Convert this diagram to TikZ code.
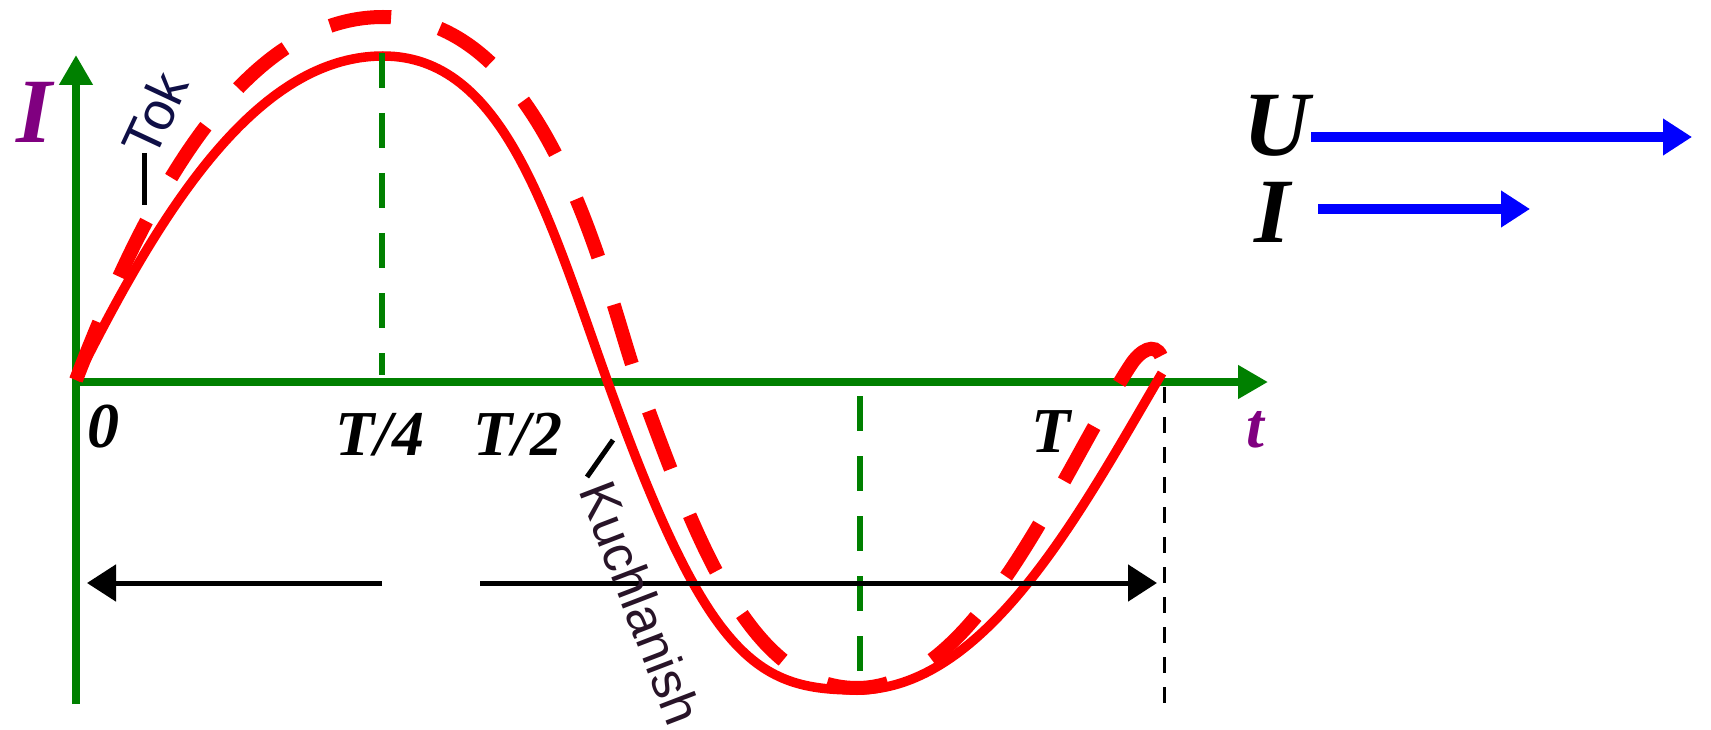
\documentclass[tikz,border=0pt]{standalone}
\usepackage{fontspec}
\setmainfont{Liberation Serif}
\newfontfamily\lsans{Liberation Sans}
\usetikzlibrary{arrows.meta}
\definecolor{cred}{RGB}{255,0,0}
\definecolor{cgreen}{RGB}{0,128,0}
\definecolor{cblue}{RGB}{0,0,255}
\definecolor{cpurple}{RGB}{128,0,128}
\definecolor{cnavy}{RGB}{15,15,70}
\definecolor{cdark}{RGB}{40,20,40}
\begin{document}
\begin{tikzpicture}[x=1pt,y=-1pt,
  axisline/.style={draw=cgreen, line width=8.5pt, -{Triangle[length=30pt,width=32pt]}},
  guide/.style={draw=cgreen, line width=6pt, dash pattern=on 35pt off 25pt},
  edgeguide/.style={draw=black, line width=3pt, dash pattern=on 16pt off 14pt},
  solidcurve/.style={draw=cred, line width=9.5pt},
  dashcurve/.style={draw=cred, line width=14pt, dash pattern=on 62pt off 50pt},
  spanarrow/.style={draw=black, line width=5pt, -{Triangle[length=29pt,width=36pt]}},
  vecarrow/.style={draw=cblue, line width=9.5pt, -{Triangle[length=29pt,width=35pt]}},
  lbl/.style={font=\fontsize{64}{70}\selectfont\bfseries\itshape, inner sep=0pt, anchor=base},
  biglbl/.style={font=\fontsize{92}{100}\selectfont\bfseries\itshape, inner sep=0pt, anchor=base},
  rotlbl/.style={font=\lsans\fontsize{52}{56}\selectfont, inner sep=0pt, text=cdark},
  leader/.style={draw=black, line width=5pt}
]
\useasboundingbox (0,0) rectangle (1711,730);

% axes
\coordinate (O) at (76,382);
\coordinate (ybot) at (76,704);
\coordinate (ytop) at (76,55);
\coordinate (xend) at (1268,382);
\draw[axisline] (ybot) -- (ytop);
\draw[axisline] (O) -- (xend);

% dashed curve
\coordinate (d0) at (76,380);
\coordinate (d1) at (383,17);
\coordinate (d2) at (638,382);
\coordinate (d3) at (857,688);
\coordinate (d4) at (1130,366);
\coordinate (d5) at (1161,356);
\draw[dashcurve] (d0) .. controls (136,224) and (233,17) .. (d1)
  .. controls (553,17) and (608,301) .. (d2)
  .. controls (693,530) and (747,688) .. (d3)
  .. controls (977,688) and (1060,474) .. (d4)
  .. controls (1140,350) and (1155,342) .. (d5);

% solid curve
\coordinate (s0) at (76,380);
\coordinate (s1) at (383,56);
\coordinate (s2) at (607,380);
\coordinate (s3) at (857,690);
\coordinate (s4) at (1162,373);
\draw[solidcurve] (s0) .. controls (156,220) and (253,56) .. (s1)
  .. controls (503,56) and (547,212) .. (s2)
  .. controls (707,660) and (757,690) .. (s3)
  .. controls (987,690) and (1082,509) .. (s4);

% guide lines
\coordinate (g1t) at (382,53);
\coordinate (g1b) at (382,375);
\coordinate (g2t) at (860,396);
\coordinate (g2b) at (860,680);
\coordinate (g3t) at (1164,387);
\coordinate (g3b) at (1164,712);
\draw[guide] (g1t) -- (g1b);
\draw[guide] (g2t) -- (g2b);
\draw[edgeguide] (g3t) -- (g3b);

% span arrows
\coordinate (a1s) at (382,583);
\coordinate (a1e) at (87,583);
\coordinate (a2s) at (480,583);
\coordinate (a2e) at (1157,583);
\draw[spanarrow] (a1s) -- (a1e);
\draw[spanarrow] (a2s) -- (a2e);

% vectors
\coordinate (us) at (1311,137);
\coordinate (ue) at (1692,137);
\coordinate (is) at (1318,209);
\coordinate (ie) at (1530,209);
\draw[vecarrow] (us) -- (ue);
\draw[vecarrow] (is) -- (ie);

% labels
\node[biglbl, text=cpurple] (lI) at (34,143) {I};
\node[biglbl] (lU) at (1277,156) {U};
\node[biglbl] (lI2) at (1272,243) {I};
\node[lbl] (l0) at (103,447) {0};
\node[lbl] (lT4) at (380,455) {T/4};
\node[lbl] (lT2) at (518,455) {T/2};
\node[lbl] (lT) at (1051,452) {T};
\node[lbl, text=cpurple] (lt) at (1255,447) {t};

% rotated labels
\coordinate (k1) at (613,440);
\coordinate (k2) at (587,477);
\draw[leader] (k1) -- (k2);
\node[rotlbl, rotate=-69] (kuch) at (641,603) {Kuchlanish};
\coordinate (t1) at (144,153);
\coordinate (t2) at (144,205);
\draw[leader] (t1) -- (t2);
\node[rotlbl, rotate=65, text=cnavy, font=\lsans\fontsize{54}{58}\selectfont] (tok) at (155,114) {Tok};
\end{tikzpicture}
\end{document}
